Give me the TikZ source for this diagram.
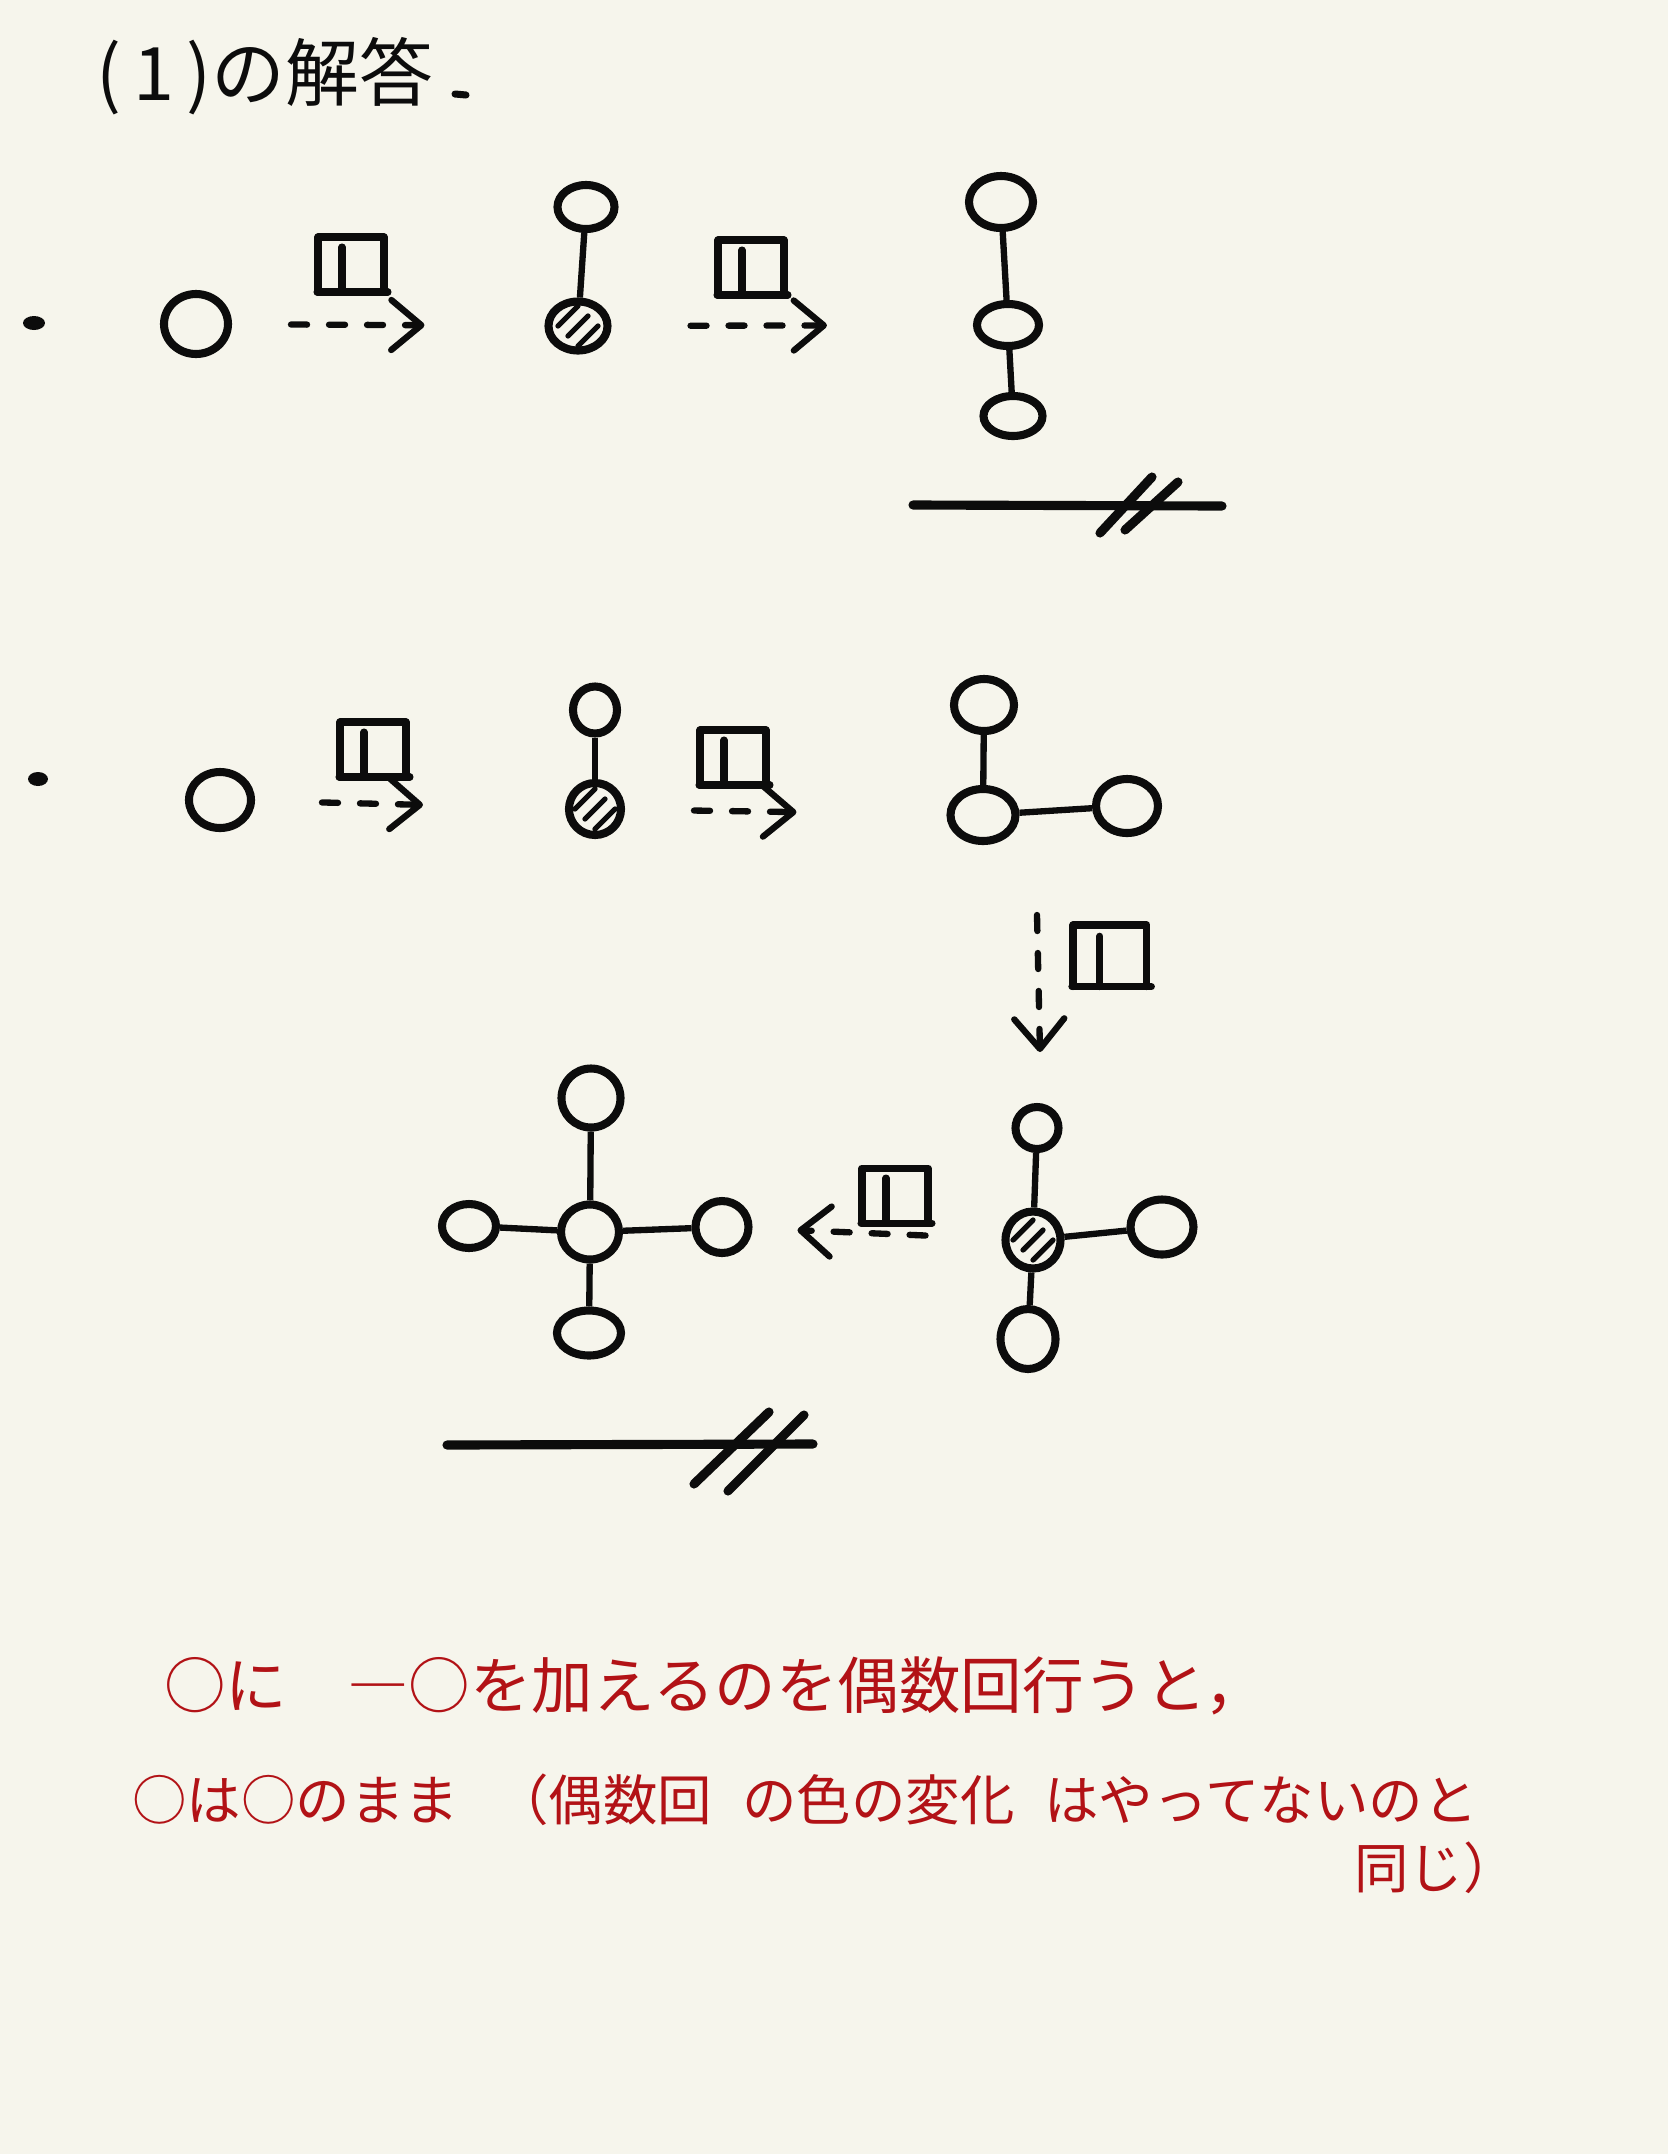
\documentclass[tikz,border=0pt]{standalone}
\usepackage{fontspec}
\newfontfamily\jpfont{Noto Sans CJK JP}
\usetikzlibrary{calc,shapes.geometric,arrows.meta}
\definecolor{paper}{RGB}{246,245,236}
\definecolor{ink}{RGB}{12,12,12}
\definecolor{redink}{RGB}{178,18,22}

\tikzset{
  atom/.style={ellipse, draw=ink, line width=2.3pt, inner sep=0pt},
  sz/.style 2 args={minimum width={#1*0.1mm}, minimum height={#2*0.1mm}},
  hatched/.style={atom, path picture={
    \foreach \s in {-1,0,1}
      \draw[ink, line width=1.5pt, line cap=round] ([shift={(\s*10-10,\s*10+10)}]path picture bounding box.center) -- ++(20,-20);}},
  bond/.style={ink, line width=1.8pt},
  oparrow/.style={ink, line width=1.8pt, line cap=round, dash pattern=on 1.6mm off 2.2mm,
    -{Straight Barb[length=3mm, width=5mm, line width=1.8pt, round]}},
  endline/.style={ink, line width=2.6pt, line cap=round},
  opmark/.pic={
    \draw[ink, line width=2pt, line cap=round, line join=round] (0,55) -- (0,0) -- (66,0) -- (66,55);
    \draw[ink, line width=2pt, line cap=round] (-1,55) -- (70,55);
    \draw[ink, line width=2pt, line cap=round] (24,10) -- (24,55);}
}

\begin{document}
\begin{tikzpicture}[x=0.1mm, y=-0.1mm]
\fill[paper] (0,0) rectangle (1668,2154);
\useasboundingbox (0,0) rectangle (1668,2154);

% title
\node[anchor=west, text=ink, font=\jpfont\fontsize{21}{25}\selectfont] (title) at (84,76) {(\,1\,)の解答};
\draw[ink, line width=2pt, line cap=round] (455,94) -- (466,95);

% first case
\fill[ink] (34,323) ellipse [x radius=11, y radius=7];
\node[atom, sz={64}{60}] (a1) at (196,324) {};
\node[atom, sz={57}{44}] (b1t) at (586,207) {};
\node[hatched, sz={59}{49}] (b1c) at (578,326) {};
\node[atom, sz={64}{52}] (c1t) at (1001,202) {};
\node[atom, sz={62}{42}] (c1m) at (1008,325) {};
\node[atom, sz={59}{40}] (c1b) at (1013,416) {};
\draw[bond] (b1t) -- (b1c);
\draw[bond] (c1t) -- (c1m) -- (c1b);
\draw[oparrow, shorten <=5.9mm, shorten >=12mm] (a1) -- (b1c);
\draw[oparrow, shorten <=7.9mm, shorten >=14.6mm] (b1c) -- (c1m);
\pic at (318,237) {opmark};
\pic at (718,240) {opmark};
\draw[endline] (913,505) -- (1222,506);
\draw[endline] (1100,533) -- (1152,477);
\draw[endline] (1125,530) -- (1178,482);

% second case
\fill[ink] (38,779) ellipse [x radius=10, y radius=7];
\node[atom, sz={62}{56}] (a2) at (220,800) {};
\node[atom, sz={44}{47}] (b2t) at (595,710) {};
\node[hatched, sz={52}{52}] (b2c) at (595,809) {};
\node[atom, sz={60}{52}] (c2t) at (984,705) {};
\node[atom, sz={65}{52}] (c2c) at (983,815) {};
\node[atom, sz={62}{54}] (c2r) at (1127,806) {};
\draw[bond] (b2t) -- (b2c);
\draw[bond] (c2t) -- (c2c) -- (c2r);
\draw[oparrow, shorten <=6.7mm, shorten >=14.2mm] (a2) -- (b2c);
\draw[oparrow, shorten <=6.9mm, shorten >=15mm] (b2c) -- (c2c);
\pic at (340,722) {opmark};
\pic at (700,730) {opmark};

% down step
\coordinate (vtop) at (1037,915);
\coordinate (vbot) at (1040,1052);
\draw[oparrow] (vtop) -- (vbot);
\pic[scale=1.12] at (1073,925) {opmark};

\node[atom, sz={43}{42}] (r3t) at (1037,1128) {};
\node[hatched, sz={55}{57}] (r3c) at (1033,1240) {};
\node[atom, sz={63}{55}] (r3r) at (1162,1227) {};
\node[atom, sz={55}{60}] (r3b) at (1028,1339) {};
\draw[bond] (r3t) -- (r3c);
\draw[bond] (r3c) -- (r3r);
\draw[bond] (r3c) -- (r3b);

\node[atom, sz={59}{59}] (l3t) at (591,1098) {};
\node[atom, sz={58}{55}] (l3c) at (590,1232) {};
\node[atom, sz={54}{44}] (l3l) at (469,1226) {};
\node[atom, sz={53}{52}] (l3r) at (722,1227) {};
\node[atom, sz={64}{45}] (l3b) at (589,1333) {};
\draw[bond] (l3t) -- (l3c);
\draw[bond] (l3l) -- (l3c);
\draw[bond] (l3c) -- (l3r);
\draw[bond] (l3c) -- (l3b);
\draw[oparrow, shorten <=7.6mm, shorten >=4.5mm] (r3c) -- (l3r);
\pic at (862,1168) {opmark};

\draw[endline] (447,1445) -- (813,1444);
\draw[endline] (694,1484) -- (769,1412);
\draw[endline] (728,1491) -- (804,1415);

% red note
\node[anchor=west, text=redink, font=\jpfont\fontsize{17.5}{22}\selectfont] (note1) at (152,1686)
  {○に\hspace{6mm}―○を加えるのを偶数回行うと，};
\node[anchor=west, text=redink, font=\jpfont\fontsize{15.5}{20}\selectfont] (note2) at (120,1800)
  {○は○のまま\hspace{3.5mm}（偶数回\hspace{3mm}の色の変化\hspace{3mm}はやってないのと};
\node[anchor=east, text=redink, font=\jpfont\fontsize{15.5}{20}\selectfont] (note3) at (1530,1868)
  {同じ）};
\end{tikzpicture}
\end{document}
